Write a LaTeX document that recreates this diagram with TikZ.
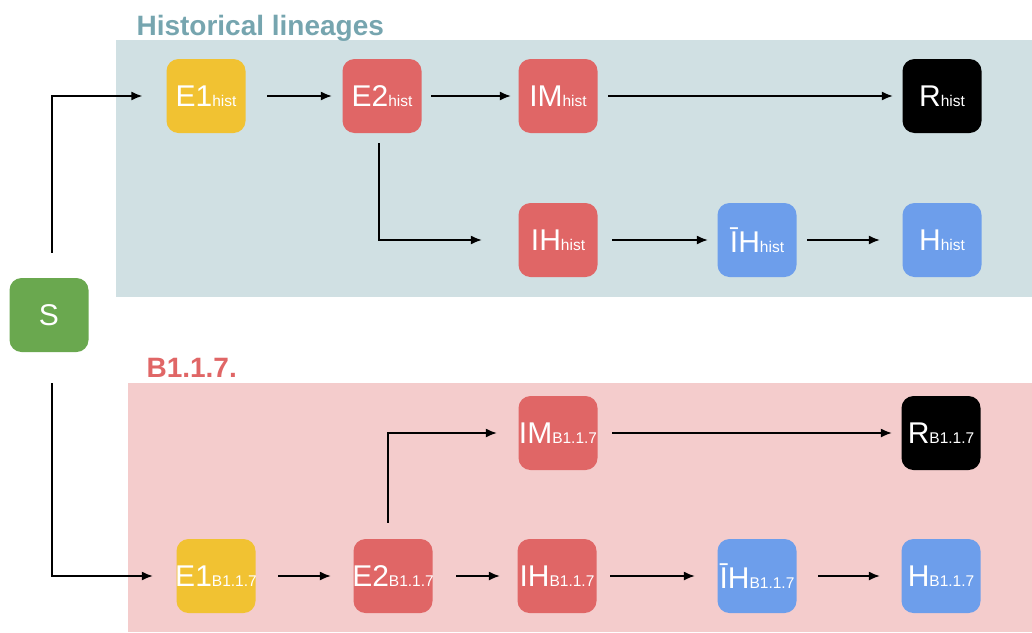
\documentclass[tikz,border=0pt]{standalone}
\usepackage{fontspec}
\setmainfont{Liberation Sans}
\usepackage{tikz}
\usetikzlibrary{arrows.meta}

\definecolor{histbg}{HTML}{D0E0E3}
\definecolor{histtitle}{HTML}{76A5AF}
\definecolor{varbg}{HTML}{F4CCCC}
\definecolor{vartitle}{HTML}{E06666}
\definecolor{cgreen}{HTML}{6AA84F}
\definecolor{cyellow}{HTML}{F1C232}
\definecolor{cred}{HTML}{E06666}
\definecolor{cblue}{HTML}{6D9EEB}

\newcommand{\subtxt}[1]{{\fontsize{15.5}{18}\selectfont #1}}

\tikzset{
    state/.style={rounded corners=12pt, minimum width=79pt, minimum height=74pt,
        inner sep=0pt, inner xsep=-3pt, text=white, font=\fontsize{30}{36}\selectfont},
    flow/.style={-{Latex[length=11pt,width=9pt]}, line width=1.4pt}
}

\begin{document}
\begin{tikzpicture}[x=1pt,y=-1pt]
    \useasboundingbox (0,0) rectangle (1032,632);

    \fill[histbg] (116,40) rectangle (1032,297);
    \fill[varbg] (128,383) rectangle (1032,632);
    \node[anchor=base west, text=histtitle, font=\bfseries\fontsize{28}{34}\selectfont]
        (histlabel) at (133,35) {Historical lineages};
    \node[anchor=base west, text=vartitle, font=\bfseries\fontsize{28}{34}\selectfont]
        (varlabel) at (143,377) {B1.1.7.};

    \node[state, fill=cgreen] (S) at (49,315) {S};

    \node[state, fill=cyellow] (E1h) at (206,96) {E1\subtxt{hist}};
    \node[state, fill=cred] (E2h) at (382,96) {E2\subtxt{hist}};
    \node[state, fill=cred] (IMh) at (558,96) {IM\subtxt{hist}};
    \node[state, fill=black] (Rh) at (942,96) {R\subtxt{hist}};
    \node[state, fill=cred] (IHh) at (558,240) {IH\subtxt{hist}};
    \node[state, fill=cblue] (IbHh) at (757,240) {ĪH\subtxt{hist}};
    \node[state, fill=cblue] (Hh) at (942,240) {H\subtxt{hist}};

    \node[state, fill=cred] (IMb) at (558,433) {IM\subtxt{B1.1.7}};
    \node[state, fill=black] (Rb) at (941,433) {R\subtxt{B1.1.7}};
    \node[state, fill=cyellow] (E1b) at (216,576) {E1\subtxt{B1.1.7}};
    \node[state, fill=cred] (E2b) at (393,576) {E2\subtxt{B1.1.7}};
    \node[state, fill=cred] (IHb) at (557,576) {IH\subtxt{B1.1.7}};
    \node[state, fill=cblue] (IbHb) at (757,576) {ĪH\subtxt{B1.1.7}};
    \node[state, fill=cblue] (Hb) at (941,576) {H\subtxt{B1.1.7}};

    \draw[flow, shorten <=25pt, shorten >=24pt] ([xshift=3pt]S.north) |- (E1h.west);
    \draw[flow, shorten <=21.5pt, shorten >=10.5pt] (E1h) -- (E2h);
    \draw[flow, shorten <=9.5pt, shorten >=7.5pt] (E2h) -- (IMh);
    \draw[flow, shorten <=10.5pt, shorten >=9.5pt] (IMh) -- (Rh);
    \draw[flow, shorten <=10pt, shorten >=36.5pt] ([xshift=-3pt]E2h.south) |- (IHh.west);
    \draw[flow, shorten <=14.5pt, shorten >=9.5pt] (IHh) -- (IbHh);
    \draw[flow, shorten <=10.5pt, shorten >=22.5pt] (IbHh) -- (Hh);

    \draw[flow, shorten <=31pt, shorten >=23.5pt] ([xshift=3pt]S.south) |- (E1b.west);
    \draw[flow, shorten <=22.5pt, shorten >=22.5pt] (E1b) -- (E2b);
    \draw[flow, shorten <=23.5pt, shorten >=17.5pt] (E2b) -- (IHb);
    \draw[flow, shorten <=13.5pt, shorten >=22.5pt] (IHb) -- (IbHb);
    \draw[flow, shorten <=21.5pt, shorten >=21.5pt] (IbHb) -- (Hb);
    \draw[flow, shorten <=16pt, shorten >=21.5pt] ([xshift=-5pt]E2b.north) |- (IMb.west);
    \draw[flow, shorten <=14.5pt, shorten >=9.5pt] (IMb) -- (Rb);
\end{tikzpicture}
\end{document}
